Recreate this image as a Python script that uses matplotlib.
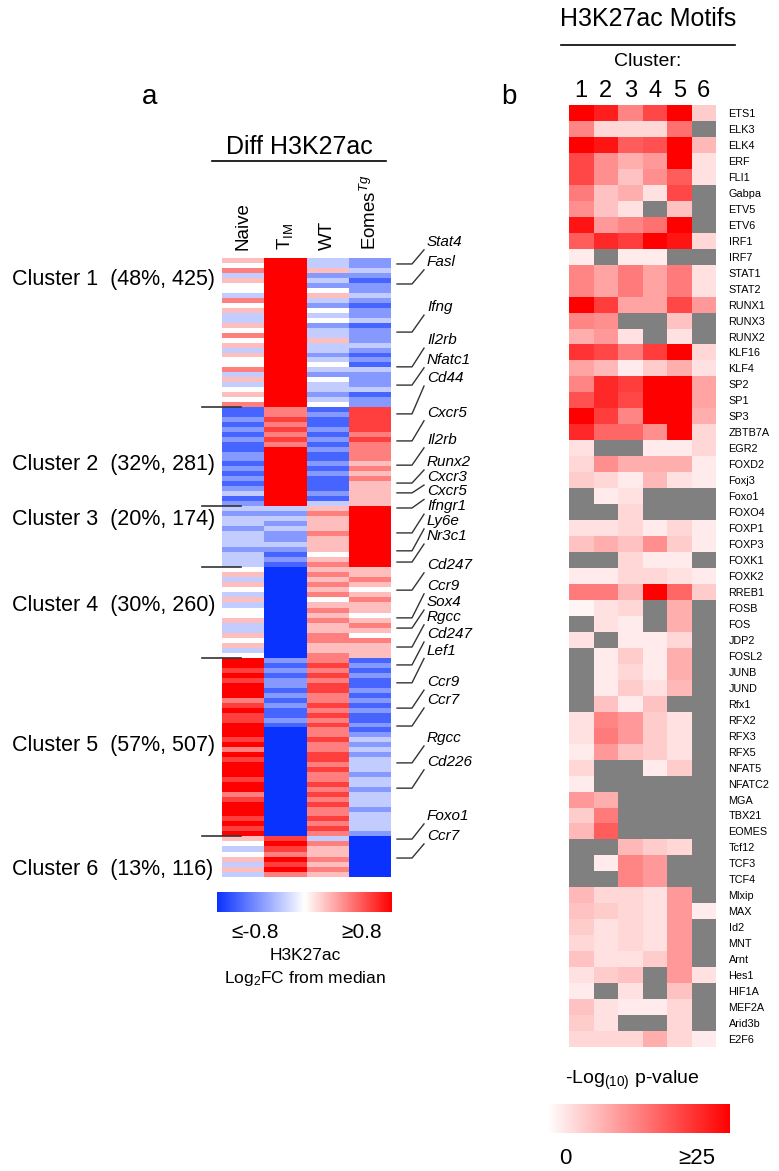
import numpy as np
import matplotlib
matplotlib.use('Agg')
import matplotlib.pyplot as plt
from matplotlib.colors import LinearSegmentedColormap, Normalize
from matplotlib.cm import ScalarMappable

plt.rcParams['font.family'] = ['Liberation Sans', 'DejaVu Sans']
plt.rcParams['mathtext.fontset'] = 'custom'
plt.rcParams['mathtext.rm'] = 'Liberation Sans'
plt.rcParams['mathtext.it'] = 'Liberation Sans:italic'

W, H = 779, 1171

# ---- panel a: differential H3K27ac, 6 clusters x 4 samples ----
SAMPLES = ['Naive', 'T$_{\\rm IM}$', 'WT', 'Eomes$^{Tg}$']
CLUSTER_SIZES = [425, 281, 174, 260, 507, 116]
CLUSTER_PCT = [48, 32, 20, 30, 57, 13]
CLUSTER_LABEL_Y = [279, 464, 520, 606, 746, 870]  # label rows, figure px

# stripe levels per cluster: '0' = -0.8 ... '4' = 0 ... '8' = +0.8
NAIVE = ['546354436453354645354463534546', '11212121122121212312', '323323332333',
         '453543534453354534', '887878886787788878687888788678887878', '54345353']
TIM = ['888888888888888888888888888888', '66767676888888888888', '323232232121',
       '000000000000000000', '212122121211210000000000000000000000', '78768786']
WT = ['335232453243423353323432433234', '12112121211212111213', '565556555456',
      '565656456565566556', '676767766767676676677676676767667676', '36556565']
EOMES = ['223212232122312223212132223122', '77777676666565655555', '888888888888',
         '556545655456546555', '121211212121121232323332332333233332', '00000000']

GENES = ['Stat4', 'Fasl', 'Ifng', 'Il2rb', 'Nfatc1', 'Cd44', 'Cxcr5', 'Il2rb', 'Runx2',
         'Cxcr3', 'Cxcr5', 'Ifngr1', 'Ly6e', 'Nr3c1', 'Cd247', 'Ccr9', 'Sox4', 'Rgcc',
         'Cd247', 'Lef1', 'Ccr9', 'Ccr7', 'Rgcc', 'Cd226', 'Foxo1', 'Ccr7']
GENE_ROWS = [17, 74, 211, 310, 362, 444, 521, 590, 641, 669, 712, 783, 834, 866, 946,
             1025, 1054, 1108, 1159, 1210, 1282, 1333, 1438, 1510, 1655, 1709]
GENE_LABEL_ROWS = [-46, 11, 140, 234, 290, 342, 441, 518, 581, 624, 665, 707, 749, 792,
                   874, 934, 980, 1022, 1071, 1118, 1208, 1259, 1367, 1435, 1589, 1646]

# ---- panel b: motif enrichment, -log10 p per cluster (None = not found) ----
N = None
MOTIFS = ['ETS1', 'ELK3', 'ELK4', 'ERF', 'FLI1', 'Gabpa', 'ETV5', 'ETV6', 'IRF1', 'IRF7',
          'STAT1', 'STAT2', 'RUNX1', 'RUNX3', 'RUNX2', 'KLF16', 'KLF4', 'SP2', 'SP1', 'SP3',
          'ZBTB7A', 'EGR2', 'FOXD2', 'Foxj3', 'Foxo1', 'FOXO4', 'FOXP1', 'FOXP3', 'FOXK1',
          'FOXK2', 'RREB1', 'FOSB', 'FOS', 'JDP2', 'FOSL2', 'JUNB', 'JUND', 'Rfx1', 'RFX2',
          'RFX3', 'RFX5', 'NFAT5', 'NFATC2', 'MGA', 'TBX21', 'EOMES', 'Tcf12', 'TCF3', 'TCF4',
          'Mlxip', 'MAX', 'Id2', 'MNT', 'Arnt', 'Hes1', 'HIF1A', 'MEF2A', 'Arid3b', 'E2F6']
MOTIF_LOGP = [
    [25, 22, 12, 18, 25, 5], [12, 4, 4, 4, 14, N], [25, 23, 16, 17, 25, 7],
    [18, 11, 8, 10, 25, 3], [18, 11, 6, 11, 16, 3], [13, 6, 8, 3, 18, N],
    [11, 6, 3, N, 6, N], [23, 10, 12, 14, 25, N], [16, 21, 19, 25, 23, 4],
    [2, N, 2, 2, N, N], [12, 9, 13, 9, 13, 3], [12, 9, 13, 9, 13, 3],
    [25, 19, 9, 9, 18, 10], [12, 11, N, N, 6, N], [8, 10, 3, N, 3, N],
    [20, 18, 13, 19, 25, 4], [9, 7, 2, 5, 8, 3], [12, 21, 19, 25, 25, 9],
    [17, 21, 18, 25, 25, 9], [25, 19, 12, 25, 25, 8], [21, 15, 15, 11, 25, 4],
    [3, N, N, 2, 2, 4], [4, 11, 8, 8, 8, 2], [5, 4, 2, 7, 3, 2],
    [N, 2, 3, N, N, N], [N, N, 4, N, N, N], [3, 3, 4, 2, 4, 2],
    [6, 8, 6, 11, 5, 2], [N, N, 4, 2, 2, N], [2, 2, 4, 4, 3, 2],
    [13, 13, 7, 25, 15, 5], [1, 3, 4, N, 8, N], [N, 3, 2, N, 8, N],
    [3, N, 2, 2, 4, N], [N, 2, 5, 2, 8, N], [N, 2, 4, 2, 8, N],
    [N, 2, 5, 3, 7, N], [N, 6, 2, 6, N, N], [3, 12, 10, 5, 3, N],
    [3, 13, 10, 5, 3, N], [2, 10, 6, 5, 3, N], [4, N, N, 2, 5, N],
    [2, N, N, N, N, N], [10, 8, N, N, N, N], [5, 13, N, N, N, N],
    [7, 16, N, N, N, N], [N, N, 7, 5, 4, N], [N, 2, 12, 10, N, N],
    [N, N, 12, 10, N, N], [7, 4, 4, 3, 10, N], [6, 5, 4, 3, 10, 2],
    [5, 3, 4, 3, 10, N], [4, 3, 4, 3, 10, N], [6, 3, 3, 5, 10, N],
    [3, 5, 6, N, 10, 3], [2, N, 3, N, 6, N], [6, 3, 2, 2, 4, N],
    [5, 3, N, N, 4, N], [4, 4, 4, 8, 4, 2],
]
CLUSTER_IDS = ['1', '2', '3', '4', '5', '6']


def fx(px):
    return px / W


def fy(py):
    return 1 - py / H


def rect(x0, y0, x1, y1):
    return [fx(x0), fy(y1), (x1 - x0) / W, (y1 - y0) / H]


fig = plt.figure(figsize=(W / 100, H / 100), dpi=100)

# ------------------------------------------------ panel a
cmap_a = LinearSegmentedColormap.from_list('bwr_a', ['#0a32ff', '#ffffff', '#ff0000'])
ax = fig.add_axes(rect(222, 258, 391, 877))
edges = np.concatenate([[0], np.cumsum(CLUSTER_SIZES)])
for k in range(len(CLUSTER_SIZES)):
    cols = [NAIVE[k], TIM[k], WT[k], EOMES[k]]
    n = len(cols[0])
    vals = np.array([[int(c) * 0.2 - 0.8 for c in col] for col in cols]).T
    ys = np.linspace(edges[k], edges[k + 1], n + 1)
    ax.pcolormesh(np.arange(5), ys, vals, cmap=cmap_a, vmin=-0.8, vmax=0.8,
                  shading='flat', rasterized=True)
ax.set_xlim(0, 4)
ax.set_ylim(edges[-1], 0)
ax.axis('off')

px_per_col = 169 / 4
px_per_row = 619 / edges[-1]


def xd(px):
    return (px - 222) / px_per_col


for b in edges[1:-1]:
    ax.plot([xd(202), xd(241)], [b, b], color='#333333', lw=1.2, clip_on=False)

for i, s in enumerate(SAMPLES):
    ax.text(i + 0.5, -8 / px_per_row, s, rotation=90, ha='center', va='bottom',
            fontsize=13.5)

for g, r, lr in zip(GENES, GENE_ROWS, GENE_LABEL_ROWS):
    ax.plot([xd(397), xd(412), xd(424)], [r, r, lr + 8 / px_per_row],
            color='#333333', lw=1, clip_on=False)
    ax.text(xd(427), lr, g, style='italic', fontsize=11, ha='left', va='center')

for k in range(len(CLUSTER_SIZES)):
    fig.text(fx(12), fy(CLUSTER_LABEL_Y[k]),
             f'Cluster {k + 1}  ({CLUSTER_PCT[k]}%, {CLUSTER_SIZES[k]})',
             fontsize=15.5, ha='left', va='center')

fig.text(fx(150), fy(97), 'a', fontsize=20, ha='center', va='center')
fig.text(fx(299), fy(147), 'Diff H3K27ac', fontsize=18, ha='center', va='center')
fig.add_artist(plt.Line2D([fx(212), fx(386)], [fy(161), fy(161)], color='black', lw=1.2))

cax_a = fig.add_axes(rect(217, 892, 392, 912))
cb_a = fig.colorbar(ScalarMappable(Normalize(-0.8, 0.8), cmap_a), cax=cax_a,
                    orientation='horizontal')
cb_a.set_ticks([])
cb_a.outline.set_visible(False)
fig.text(fx(255), fy(932), '≤-0.8', fontsize=15, ha='center', va='center')
fig.text(fx(362), fy(932), '≥0.8', fontsize=15, ha='center', va='center')
fig.text(fx(305), fy(956), 'H3K27ac', fontsize=12.5, ha='center', va='center')
fig.text(fx(305), fy(979), 'Log$_2$FC from median', fontsize=12.5, ha='center', va='center')

# ------------------------------------------------ panel b
cmap_b = LinearSegmentedColormap.from_list('wr', ['#ffffff', '#ff0000'])
cmap_b.set_bad('#808080')
axb = fig.add_axes(rect(569, 105, 716, 1047))
logp = np.array([[np.nan if v is None else v for v in row] for row in MOTIF_LOGP])
axb.pcolormesh(np.ma.masked_invalid(logp), cmap=cmap_b, vmin=0, vmax=25)
axb.set_xlim(0, len(CLUSTER_IDS))
axb.set_ylim(len(MOTIFS), 0)
axb.set_yticks(np.arange(len(MOTIFS)) + 0.5)
axb.set_yticklabels(MOTIFS, fontsize=7.8)
axb.yaxis.tick_right()
axb.tick_params(axis='y', length=0, pad=9)
axb.set_xticks(np.arange(len(CLUSTER_IDS)) + 0.5)
axb.set_xticklabels(CLUSTER_IDS, fontsize=17)
axb.xaxis.tick_top()
axb.tick_params(axis='x', length=0, pad=2)
for sp in axb.spines.values():
    sp.set_visible(False)

fig.text(fx(509), fy(97), 'b', fontsize=20, ha='center', va='center')
fig.text(fx(648), fy(19), 'H3K27ac Motifs', fontsize=18, ha='center', va='center')
fig.add_artist(plt.Line2D([fx(561), fx(735)], [fy(45), fy(45)], color='black', lw=1.2))
fig.text(fx(648), fy(62), 'Cluster:', fontsize=14, ha='center', va='center')

cax_b = fig.add_axes(rect(547, 1104, 730, 1133))
cb_b = fig.colorbar(ScalarMappable(Normalize(0, 25), cmap_b), cax=cax_b,
                    orientation='horizontal')
cb_b.set_ticks([])
cb_b.outline.set_visible(False)
fig.text(fx(632), fy(1080), '-Log$_{(10)}$ p-value', fontsize=14, ha='center', va='center')
fig.text(fx(565), fy(1158), '0', fontsize=16, ha='center', va='center')
fig.text(fx(697), fy(1158), '≥25', fontsize=16, ha='center', va='center')

fig.savefig('out.png', dpi=100)
